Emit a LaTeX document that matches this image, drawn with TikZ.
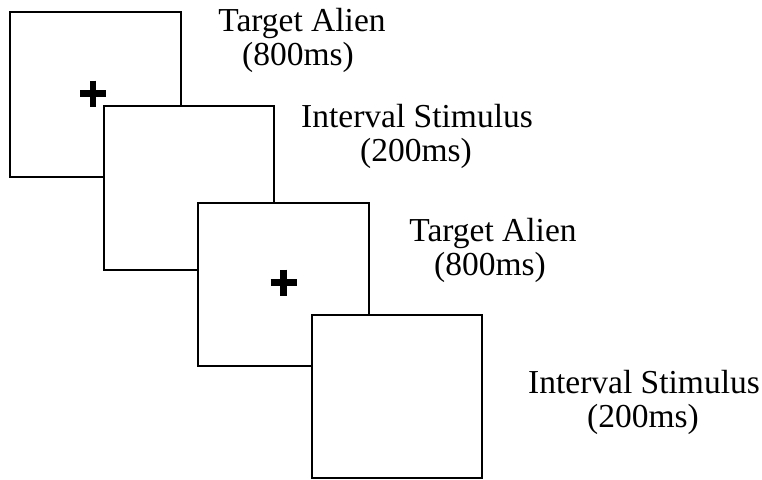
\documentclass[tikz,border=0pt]{standalone}
\usepackage{fontspec}
\setmainfont{Liberation Serif}
\begin{document}
\begin{tikzpicture}[x=1pt,y=-1pt,
  screen/.style={draw=black,line width=1.6pt,fill=white},
  fix/.style={line width=6.5pt,black},
  lbl/.style={font=\fontsize{33.5}{36}\selectfont,anchor=base,inner sep=0pt}]
\useasboundingbox[fill=white] (0,0) rectangle (762,479);
% screens (drawn back to front)
\draw[screen] (10,12) rectangle (181,177);
\draw[fix] (80,93.5) -- (106,93.5) (93,80.5) -- (93,106.5);
\draw[screen] (104,106) rectangle (274,270);
\draw[screen] (198,203) rectangle (369,366);
\draw[fix] (270.5,282.5) -- (296.5,282.5) (283.5,269.5) -- (283.5,295.5);
\draw[screen] (312,315) rectangle (482,478);
% labels
\node[lbl] (t1a) at (302,31) {Target Alien};
\node[lbl] (t1b) at (298,65) {(800ms)};
\node[lbl] (t2a) at (417,127) {Interval Stimulus};
\node[lbl] (t2b) at (416,161) {(200ms)};
\node[lbl] (t3a) at (493,241) {Target Alien};
\node[lbl] (t3b) at (490,275) {(800ms)};
\node[lbl] (t4a) at (644,393) {Interval Stimulus};
\node[lbl] (t4b) at (643,427) {(200ms)};
\end{tikzpicture}
\end{document}
